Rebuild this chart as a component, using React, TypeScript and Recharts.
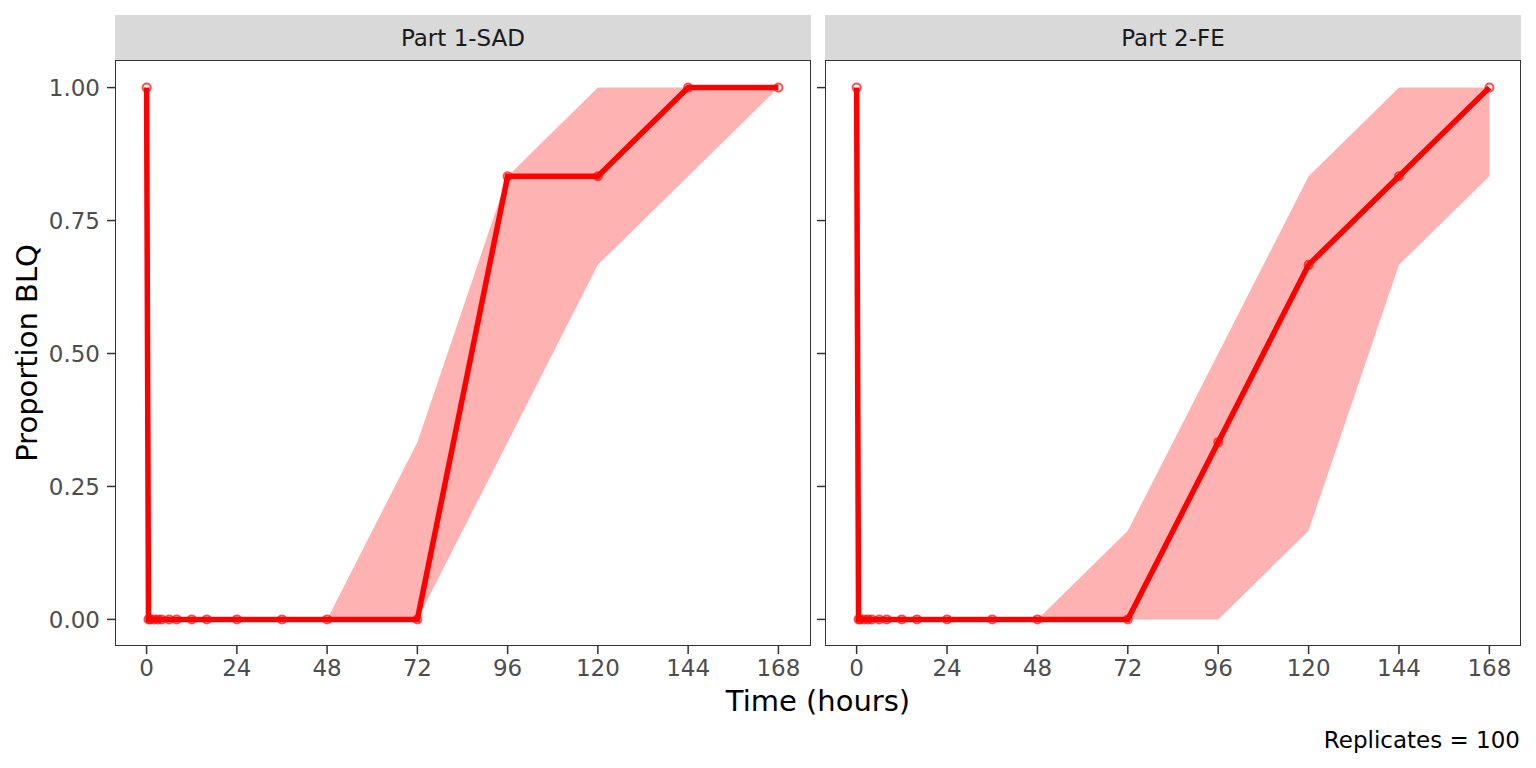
import { ComposedChart, Area, Line, XAxis, YAxis } from 'recharts'

// sampling times (hours)
const times = [0, 0.5, 1, 2, 3, 4, 6, 8, 12, 16, 24, 36, 48, 72, 96, 120, 144, 168]

// Part 1-SAD: median proportion BLQ and prediction band
const sadMedian = [1, 0, 0, 0, 0, 0, 0, 0, 0, 0, 0, 0, 0, 0, 0.8333, 0.8333, 1, 1]
const sadLower = [1, 0, 0, 0, 0, 0, 0, 0, 0, 0, 0, 0, 0, 0, 0.3333, 0.6667, 0.8333, 1]
const sadUpper = [1, 0, 0, 0, 0, 0, 0, 0, 0, 0, 0, 0, 0, 0.3333, 0.8333, 1, 1, 1]

// Part 2-FE
const feMedian = [1, 0, 0, 0, 0, 0, 0, 0, 0, 0, 0, 0, 0, 0, 0.3333, 0.6667, 0.8333, 1]
const feLower = [1, 0, 0, 0, 0, 0, 0, 0, 0, 0, 0, 0, 0, 0, 0, 0.1667, 0.6667, 0.8333]
const feUpper = [1, 0, 0, 0, 0, 0, 0, 0, 0, 0, 0, 0, 0, 0.1667, 0.5, 0.8333, 1, 1]

const xTicks = [0, 24, 48, 72, 96, 120, 144, 168]
const yTicks = [0, 0.25, 0.5, 0.75, 1]

const FONT = '"DejaVu Sans", sans-serif'
const tickStyle = { fontSize: 23, fill: '#4d4d4d', fontFamily: FONT }

function buildRows(median: number[], lower: number[], upper: number[]) {
  return times.map((t, i) => ({ t, med: median[i], band: [lower[i], upper[i]] }))
}

function Panel({ rows, left, width, showY }: { rows: any[]; left: number; width: number; showY: boolean }) {
  return (
    <div style={{ position: 'absolute', left, top: 0 }}>
      <ComposedChart width={width} height={690} data={rows} margin={{ top: 61, right: 5, bottom: 0, left: 0 }}>
        <XAxis
          dataKey="t"
          type="number"
          domain={[-8.4, 176.4]}
          ticks={xTicks}
          allowDataOverflow
          axisLine={false}
          tickSize={8}
          tickMargin={6}
          tickLine={{ stroke: '#333333', strokeWidth: 1.5 }}
          tick={tickStyle}
          height={44}
        />
        <YAxis
          type="number"
          domain={[-0.05, 1.05]}
          ticks={yTicks}
          allowDataOverflow
          axisLine={false}
          tickSize={8}
          tickMargin={7}
          tickLine={{ stroke: '#333333', strokeWidth: 1.5 }}
          tick={tickStyle}
          tickFormatter={(v: number) => (showY ? v.toFixed(2) : '')}
          width={showY ? 115 : 10}
        />
        <Area
          type="linear"
          dataKey="band"
          stroke="none"
          fill="#ff0000"
          fillOpacity={0.3}
          isAnimationActive={false}
          activeDot={false}
        />
        <Line
          type="linear"
          dataKey="med"
          stroke="#ff0000"
          strokeWidth={5.5}
          dot={{ r: 4, fill: 'none', stroke: '#ff0000', strokeOpacity: 0.7, strokeWidth: 2 }}
          activeDot={false}
          isAnimationActive={false}
        />
      </ComposedChart>
    </div>
  )
}

function Frame({ left, label }: { left: number; label: string }) {
  return (
    <>
      <div
        style={{
          position: 'absolute', left, top: 15, width: 696, height: 45, background: '#d9d9d9',
          display: 'flex', alignItems: 'center', justifyContent: 'center',
          fontSize: 23, color: '#1a1a1a', fontFamily: FONT,
        }}
      >
        {label}
      </div>
      <div
        style={{
          position: 'absolute', left, top: 60, width: 696, height: 586, boxSizing: 'border-box',
          border: '1.5px solid #333333', pointerEvents: 'none',
        }}
      />
    </>
  )
}

export default function App() {
  const sadRows = buildRows(sadMedian, sadLower, sadUpper)
  const feRows = buildRows(feMedian, feLower, feUpper)

  return (
    <div style={{ position: 'absolute', left: 0, top: 0, width: 1536, height: 768, background: '#fff', fontFamily: FONT }}>
      <Panel rows={sadRows} left={0} width={815} showY />
      <Panel rows={feRows} left={815} width={711} showY={false} />
      <Frame left={115} label="Part 1-SAD" />
      <Frame left={825} label="Part 2-FE" />
      <div
        style={{
          position: 'absolute', left: 27, top: 353, transform: 'translate(-50%, -50%) rotate(-90deg)',
          fontSize: 29, color: '#000', whiteSpace: 'nowrap',
        }}
      >
        Proportion BLQ
      </div>
      <div
        style={{
          position: 'absolute', left: 818, top: 701, transform: 'translate(-50%, -50%)',
          fontSize: 29, color: '#000', whiteSpace: 'nowrap',
        }}
      >
        Time (hours)
      </div>
      <div
        style={{
          position: 'absolute', right: 16, top: 740, transform: 'translateY(-50%)',
          fontSize: 23, color: '#000', whiteSpace: 'nowrap',
        }}
      >
        Replicates = 100
      </div>
    </div>
  )
}
